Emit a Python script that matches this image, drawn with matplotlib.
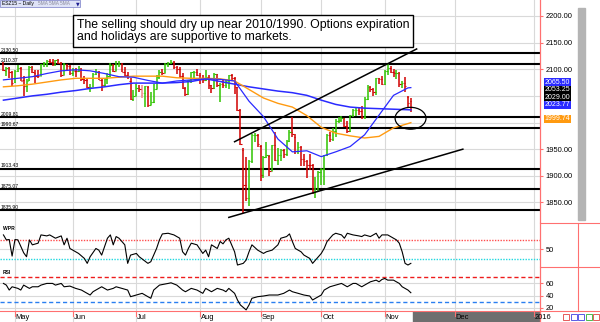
import matplotlib.pyplot as plt
import matplotlib.transforms as mtransforms
from matplotlib.patches import Rectangle, Ellipse
from matplotlib.lines import Line2D
import numpy as np

plt.rcParams['font.family'] = ['Liberation Sans', 'DejaVu Sans']

W, H = 600, 322

# daily ESZ15 bars, Apr 27 .. Nov 13 2015
opens = [2110, 2097, 2102, 2094, 2076, 2097, 2102, 2079, 2068, 2079, 2105, 2093, 2088, 2088, 2109, 2111, 2116, 2114, 2111, 2117,
         2112, 2090, 2108, 2107, 2093, 2097, 2096, 2100, 2082, 2079, 2066, 2067, 2091, 2095, 2080, 2071, 2082, 2087, 2108, 2097,
         2109, 2110, 2095, 2089, 2077, 2044, 2050, 2064, 2052, 2055, 2067, 2033, 2038, 2063, 2086, 2095, 2093, 2110, 2112, 2114,
         2105, 2100, 2088, 2064, 2053, 2079, 2094, 2094, 2089, 2084, 2079, 2086, 2070, 2064, 2091, 2071, 2073, 2070, 2078, 2089,
         2084, 2066, 2023, 1948, 1883, 1858, 1928, 1976, 1976, 1956, 1901, 1936, 1938, 1910, 1957, 1930, 1940, 1949, 1941, 1966,
         1983, 1973, 1947, 1955, 1931, 1927, 1921, 1920, 1870, 1872, 1908, 1912, 1939, 1976, 1969, 1985, 2003, 2005, 2008, 1994,
         1985, 2014, 2023, 2024, 2021, 2010, 2044, 2067, 2063, 2058, 2083, 2082, 2072, 2097, 2103, 2095, 2093, 2093, 2073, 2075,
         2048, 2040]
highs = [2114, 2105, 2104, 2097, 2098, 2108, 2104, 2088, 2082, 2106, 2107, 2099, 2099, 2110, 2113, 2117, 2120, 2120, 2118, 2119,
         2113, 2111, 2110, 2108, 2103, 2103, 2107, 2103, 2087, 2082, 2073, 2093, 2101, 2096, 2081, 2084, 2093, 2112, 2109, 2115,
         2115, 2112, 2105, 2094, 2083, 2061, 2072, 2071, 2070, 2069, 2068, 2058, 2072, 2089, 2098, 2101, 2111, 2113, 2118, 2115,
         2106, 2105, 2092, 2067, 2080, 2095, 2096, 2100, 2092, 2089, 2098, 2090, 2071, 2092, 2091, 2075, 2082, 2080, 2090, 2091,
         2086, 2067, 2025, 1953, 1936, 1930, 1978, 1981, 1978, 1958, 1938, 1963, 1940, 1958, 1983, 1952, 1951, 1951, 1968, 1986,
         2010, 1978, 1964, 1956, 1941, 1930, 1941, 1922, 1898, 1910, 1914, 1940, 1978, 1982, 1989, 2006, 2010, 2012, 2009, 2002,
         2015, 2025, 2027, 2030, 2031, 2048, 2071, 2068, 2064, 2084, 2084, 2087, 2098, 2110, 2107, 2101, 2098, 2094, 2078, 2086,
         2049, 2046]
lows = [2096, 2087, 2083, 2068, 2074, 2094, 2077, 2050, 2058, 2078, 2093, 2074, 2084, 2087, 2105, 2105, 2111, 2106, 2107, 2110,
        2086, 2090, 2099, 2090, 2088, 2086, 2095, 2078, 2072, 2065, 2058, 2066, 2090, 2079, 2060, 2067, 2073, 2085, 2094, 2096,
        2105, 2094, 2088, 2082, 2042, 2041, 2049, 2057, 2046, 2030, 2029, 2032, 2037, 2062, 2082, 2089, 2092, 2104, 2109, 2101,
        2091, 2083, 2062, 2050, 2051, 2075, 2081, 2087, 2072, 2075, 2078, 2062, 2055, 2063, 2067, 2039, 2065, 2065, 2063, 2080,
        2054, 2021, 1958, 1830, 1853, 1843, 1924, 1964, 1954, 1891, 1895, 1933, 1900, 1909, 1928, 1920, 1928, 1933, 1938, 1964,
        1973, 1941, 1941, 1918, 1918, 1896, 1911, 1866, 1858, 1871, 1883, 1882, 1938, 1963, 1965, 1973, 1999, 2001, 1992, 1981,
        1983, 2010, 2013, 2015, 2006, 2006, 2043, 2058, 2050, 2052, 2072, 2071, 2071, 2090, 2092, 2085, 2081, 2066, 2064, 2058,
        2027, 2020]
closes = [2098, 2103, 2095, 2074, 2097, 2103, 2078, 2069, 2077, 2105, 2094, 2088, 2087, 2109, 2111, 2116, 2114, 2112, 2117, 2112,
          2090, 2109, 2107, 2093, 2098, 2096, 2100, 2082, 2079, 2066, 2067, 2091, 2095, 2080, 2071, 2082, 2087, 2108, 2097, 2109,
          2110, 2095, 2089, 2088, 2044, 2050, 2064, 2063, 2055, 2068, 2033, 2038, 2063, 2086, 2095, 2093, 2110, 2112, 2114, 2105,
          2100, 2088, 2065, 2053, 2079, 2094, 2094, 2089, 2084, 2079, 2086, 2070, 2064, 2091, 2071, 2073, 2070, 2078, 2089, 2084,
          2066, 2023, 1960, 1883, 1858, 1928, 1976, 1977, 1960, 1901, 1936, 1939, 1909, 1957, 1930, 1940, 1949, 1941, 1966, 1983,
          1978, 1947, 1955, 1931, 1927, 1921, 1920, 1870, 1872, 1908, 1912, 1939, 1976, 1969, 1985, 2003, 2005, 2008, 1994, 1985,
          2014, 2023, 2024, 2021, 2010, 2044, 2067, 2063, 2058, 2083, 2082, 2072, 2097, 2103, 2095, 2093, 2093, 2073, 2075, 2068,
          2036, 2029]

# moving averages, sampled every 5 bars
ma_idx = [0, 5, 10, 15, 20, 25, 30, 35, 40, 45, 50, 55, 60, 65, 70, 75, 80, 85, 90, 95,
          100, 105, 110, 115, 120, 125, 130, 135, 140, 141]
ma_fast = [2080, 2083, 2086, 2092, 2097, 2099, 2097, 2092, 2086, 2085, 2079, 2074, 2078, 2080, 2082, 2081, 2078, 2040, 2011, 1969,
           1945, 1947, 1936, 1945, 1955, 1977, 2014, 2051, 2065, 2065.50]
ma_mid = [2067, 2069, 2072, 2076, 2080, 2083, 2083, 2083, 2085, 2087, 2087, 2087, 2084, 2083, 2083, 2082, 2078, 2062, 2046, 2036,
          2029, 2013, 1991, 1980, 1975, 1971, 1974, 1990, 1998, 1999.74]
ma_slow = [2042, 2046, 2050, 2053, 2057, 2060, 2064, 2067, 2071, 2074, 2074, 2074, 2075, 2077, 2082, 2077, 2072, 2067, 2063, 2059,
           2056, 2051, 2042, 2034, 2029, 2027, 2026, 2025, 2024, 2023.77]
prior_tag = 2053.25

# Williams %R
wpr_idx = [0, 1, 2, 3, 4, 5, 7, 8, 9, 10, 12, 13, 15, 16, 18, 20, 21, 22, 23, 24, 26, 28, 29, 30, 32, 33, 34, 36, 37, 38,
           39, 40, 42, 43, 44, 46, 47, 50, 51, 53, 54, 55, 57, 59, 61, 62, 63, 64, 65, 67, 69, 70, 71, 72, 74, 75, 76, 77, 78,
           80, 81, 83, 84, 85, 86, 88, 90, 91, 93, 95, 96, 98, 99, 100, 101, 103, 104, 106, 107, 108, 110, 111, 112, 114, 115,
           117, 118, 119, 121, 123, 124, 125, 127, 129, 130, 131, 133, 135, 136, 137, 138, 139, 140, 141]
wpr = [94, 79, 80, 30, 80, 79, 40, 28, 79, 64, 69, 94, 91, 94, 84, 91, 64, 84, 53, 48, 38, 23, 8, 28, 53, 48, 33, 84, 94, 64,
       89, 84, 64, 8, 33, 38, 28, 8, 13, 53, 79, 97, 99, 94, 84, 43, 33, 53, 69, 64, 38, 48, 28, 64, 53, 74, 67, 79, 84,
       43, 3, 8, 18, 43, 64, 48, 38, 43, 48, 64, 84, 89, 97, 74, 53, 43, 33, 23, 8, 18, 38, 53, 74, 94, 99,
       94, 84, 99, 94, 91, 89, 94, 89, 99, 84, 94, 94, 84, 79, 69, 43, 8, 3, 8]

# RSI
rsi_idx = [0, 1, 2, 3, 5, 6, 7, 8, 9, 10, 12, 13, 15, 17, 18, 20, 21, 23, 25, 27, 28, 30, 31, 33, 34, 36, 38, 39, 41, 43,
           44, 46, 48, 50, 51, 52, 54, 57, 58, 60, 62, 63, 65, 67, 69, 70, 72, 74, 76, 77, 78, 80, 81, 82, 84, 85, 86, 88,
           90, 92, 95, 97, 99, 100, 102, 104, 106, 107, 108, 110, 111, 113, 115, 117, 119, 121, 122, 124, 125, 127, 129,
           130, 131, 132, 133, 135, 136, 137, 138, 140, 141]
rsi = [59.5, 56.8, 48.8, 54.1, 51.5, 48.8, 56.8, 54.1, 51.5, 54.1, 54.1, 56.8, 59.5, 59.5, 56.8, 59.5, 54.1, 55.2, 51.5, 48.8,
       46.1, 40.8, 46.1, 51.5, 54.1, 48.8, 51.5, 54.1, 51.5, 48.8, 38.1, 40.8, 43.5, 38.1, 35.5, 48.8, 56.8, 59.5, 60.5, 56.8,
       48.8, 46.1, 51.5, 48.8, 43.5, 51.5, 46.1, 51.5, 48.8, 46.1, 51.5, 43.5, 32.8, 24.8, 16.8, 24.8, 35.5, 38.1, 39.2, 40.8,
       40.8, 43.5, 48.8, 46.1, 43.5, 40.8, 39.2, 32.8, 35.5, 40.8, 48.8, 54.1, 56.8, 59.5, 54.1, 59.5, 59.5, 54.1, 56.8, 62.1,
       64.8, 62.1, 65.9, 67.5, 64.8, 64.8, 62.1, 59.5, 54.1, 48.8, 44.5]

# support / resistance levels and trend lines
levels = [2130.50, 2110.37, 2009.81, 1990.67, 1913.43, 1875.07, 1835.90]
upper_trend_idx, upper_trend_px = [80, 143], [1964, 2138]
lower_trend_idx, lower_trend_px = [78, 159], [1822, 1950]

month_labels = ['May', 'Jun', 'Jul', 'Aug', 'Sep', 'Oct', 'Nov', 'Dec', '2016']
month_pos = [4, 24, 46, 68, 89, 110, 132, 156.2, 183.6]

note = ("The selling should dry up near 2010/1990. Options expiration\n"
        "and holidays are supportive to markets.")

# ---------------------------------------------------------------
fig = plt.figure(figsize=(W / 100, H / 100), dpi=100)
px = mtransforms.Affine2D().scale(1 / W, -1 / H).translate(0, 1) + fig.transFigure

def box(top, bottom):
    return [0, 1 - bottom / H, 540 / W, (bottom - top) / H]

ax = fig.add_axes(box(0, 223))
ax_w = fig.add_axes(box(223, 267))
ax_r = fig.add_axes(box(267, 311))
ax_d = fig.add_axes(box(311, 322))

xlim = (-1.19, 185.7)
grid_c = '#d9d9d9'
axis_red = '#ff7070'
for a in (ax, ax_w, ax_r, ax_d):
    a.set_xlim(*xlim)
    for s in ('top', 'left', 'bottom'):
        a.spines[s].set_visible(False)
    a.spines['right'].set_color(axis_red)
    a.spines['right'].set_linewidth(0.9)
    a.set_xticks([])
    for p in month_pos:
        a.axvline(p, color=grid_c, lw=0.8, zorder=0)

# price panel
ax.set_ylim(1811.5, 2229.9)
price_ticks = [1850, 1900, 1950, 2000, 2050, 2100, 2150, 2200]
for t in price_ticks:
    ax.axhline(t, color=grid_c, lw=0.8, zorder=0)
shown = [1850, 1900, 1950, 2100, 2150, 2200]
ax.yaxis.tick_right()
ax.set_yticks(shown)
ax.set_yticklabels([f'{t:.2f}' for t in shown])
for a in (ax, ax_w, ax_r):
    a.tick_params(axis='y', colors=axis_red, labelcolor='black', labelsize=5.4,
                  length=2, width=0.8, pad=2)

for lv in levels:
    ax.axhline(lv, color='black', lw=1.5, zorder=2)
    ax.annotate(f'{lv:.2f}', xy=(0, lv), xycoords=mtransforms.blended_transform_factory(ax.transAxes, ax.transData),
                xytext=(0.5, 0.2), textcoords='offset points', fontsize=3.6, va='bottom', ha='left', zorder=6)

idx = np.arange(len(closes))
o, h, l, c = map(np.array, (opens, highs, lows, closes))
prev = np.r_[o[0], c[:-1]]
cols = []
for oi, ci, pi in zip(o, c, prev):
    up = ci >= pi
    solid = (ci >= oi) == up
    if up:
        cols.append('#2fc400' if solid else '#9be27e')
    else:
        cols.append('#d10000' if solid else '#f08a8a')
ax.vlines(idx, l, h, colors=cols, lw=1.1, zorder=3)
ax.hlines(o, idx - 0.45, idx, colors=cols, lw=0.8, zorder=3)
ax.hlines(c, idx, idx + 0.45, colors=cols, lw=0.8, zorder=3)

blue = '#2a2aff'
orange = '#ff9a10'
ax.plot(ma_idx, ma_slow, color=blue, lw=1.1, zorder=4)
ax.plot(ma_idx, ma_mid, color=orange, lw=1.0, zorder=4)
ax.plot(ma_idx, ma_fast, color=blue, lw=0.9, zorder=4)

ax.plot(upper_trend_idx, upper_trend_px, color='black', lw=1.1, zorder=5)
ax.plot(lower_trend_idx, lower_trend_px, color='black', lw=1.1, zorder=5)
ax.add_patch(Ellipse((140.9, 2008), 10.7, 41, fill=False, ec='black', lw=0.9, zorder=5))

# last-value tags on the price scale, nudged upward (px) so they stack without overlapping
tag_vals = [ma_fast[-1], prior_tag, closes[-1], ma_slow[-1], ma_mid[-1]]
tag_cols = [blue, 'black', 'black', blue, orange]
tag_lift = [5.15, 4.2, 9.6, 4.9, 3.7]
yblend = mtransforms.blended_transform_factory(ax.transAxes, ax.transData)
for k, (v, fc, lift) in enumerate(zip(tag_vals, tag_cols, tag_lift)):
    ax.annotate(f'{v:.2f}', xy=(1, v), xycoords=yblend, xytext=(3.2, lift * 0.72),
                textcoords='offset points', fontsize=5.0, color='white', ha='left', va='center',
                bbox=dict(boxstyle='square,pad=0.1', fc=fc, ec='none'), zorder=10 + k,
                annotation_clip=False)

# Williams %R panel
ax_w.set_ylim(-3, 130)
ax_w.yaxis.tick_right()
ax_w.set_yticks([50])
ax_w.axhline(50, color=grid_c, lw=0.8, zorder=0)
ax_w.axhline(80, color='#ff4d4d', lw=1.0, ls=(0, (1, 1)))
ax_w.axhline(20, color='#20d8e0', lw=1.0, ls=(0, (1, 1)))
ax_w.plot(wpr_idx, wpr, color='black', lw=0.8)
ax_w.text(0.005, 0.93, 'WPR', transform=ax_w.transAxes, fontsize=3.6, fontweight='bold', va='top')

# RSI panel
ax_r.set_ylim(15, 86)
ax_r.yaxis.tick_right()
ax_r.set_yticks([20, 40, 60])
for t in (20, 40, 60):
    ax_r.axhline(t, color=grid_c, lw=0.8, zorder=0)
ax_r.axhline(70, color='#ee1c1c', lw=1.0, ls=(0, (3, 2)))
ax_r.axhline(30, color='#2a7ff0', lw=1.0, ls=(0, (3, 2)))
ax_r.plot(rsi_idx, rsi, color='black', lw=0.8)
ax_r.text(0.005, 0.93, 'RSI', transform=ax_r.transAxes, fontsize=3.6, fontweight='bold', va='top')

# date strip
ax_d.set_ylim(0, 1)
ax_d.set_yticks([])
ax_d.spines['top'].set_visible(True)
ax_d.spines['top'].set_color(axis_red)
ax_d.add_patch(Rectangle((len(closes) - 0.4, 0), xlim[1] - len(closes) + 0.4, 1, color='#6e6e6e', zorder=1))
for p, lab in zip(month_pos, month_labels):
    ax_d.plot([p, p], [1, 0.55], color=axis_red, lw=0.8, zorder=2)
    ax_d.text(p + 0.3, 0.38, lab, fontsize=5.4, ha='left', va='center', zorder=3)

# frame pieces around the scale area
for seg in ([(540, 223), (600, 223)], [(540, 267), (600, 267)], [(578, 223), (578, 311)],
            [(540, 311), (600, 311)]):
    (x0, y0), (x1, y1) = seg
    fig.add_artist(Line2D([x0, x1], [y0, y1], transform=px, color=axis_red, lw=0.8))
fig.add_artist(Rectangle((578, 8), 7, 212, transform=px, color='#b4b4b4'))
for k, ec in enumerate(['#e04040', '#4040e0', '#4040e0', '#30b030', '#e04040']):
    fig.add_artist(Rectangle((563 + k * 7.5, 314), 6, 6, transform=px, fc='white', ec=ec, lw=0.6))

# symbol header
fig.add_artist(Rectangle((0, 0), 80, 7, transform=px, fc='#dfe3f7', ec='#8a8fd0', lw=0.6))
fig.text(2 / W, 1 - 3.6 / H, 'ESZ15 ~ Daily', fontsize=3.6, va='center')
fig.text(38 / W, 1 - 3.6 / H, '5MA 5MA 5MA', fontsize=3.4, color='#8a8a9a', va='center')
fig.text(76 / W, 1 - 3.6 / H, '\u25bc', fontsize=3.4, color='#1e1e90', va='center', family='DejaVu Sans')

# commentary box
fig.add_artist(Rectangle((73, 15), 340, 32, transform=px, fc='white', ec='black', lw=1.0, zorder=20))
fig.text(77 / W, 1 - 31 / H, note, fontsize=8.8, va='center', ha='left', linespacing=1.02, zorder=21)

fig.savefig('out.png', dpi=100)
